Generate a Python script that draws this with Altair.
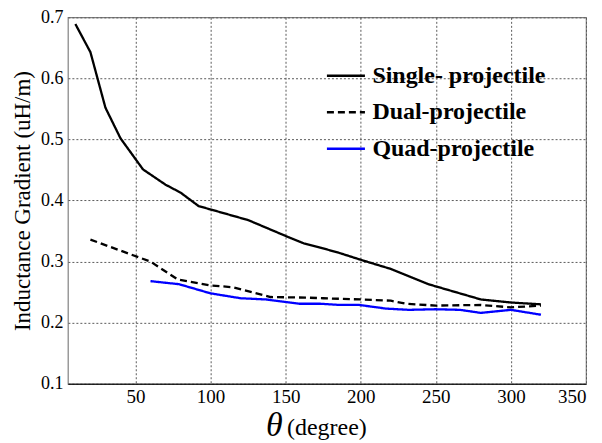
import altair as alt
import pandas as pd

series_names = ["Single- projectile", "Dual-projectile", "Quad-projectile"]

single_theta = [10, 20, 30, 40, 55, 70, 80, 92, 125, 150, 162, 173, 186, 200, 220, 245, 280, 300, 320]
single_vals = [0.689, 0.643, 0.552, 0.502, 0.451, 0.426, 0.413, 0.391, 0.368, 0.342, 0.330, 0.323, 0.314,
               0.303, 0.288, 0.263, 0.238, 0.233, 0.230]

dual_theta = [20, 60, 78, 100, 115, 140, 164, 175, 200, 220, 230, 250, 280, 300, 320]
dual_vals = [0.336, 0.300, 0.271, 0.261, 0.258, 0.242, 0.241, 0.240, 0.238, 0.236, 0.231, 0.228, 0.229,
             0.225, 0.228]

quad_theta = [60, 79, 100, 120, 137, 159, 173, 186, 199, 217, 232, 250, 266, 280, 300, 320]
quad_vals = [0.268, 0.263, 0.248, 0.240, 0.238, 0.231, 0.231, 0.229, 0.229, 0.223, 0.221, 0.222, 0.221,
             0.216, 0.221, 0.213]

x_ticks = [50, 100, 150, 200, 250, 300, 350]
y_ticks = [0.1, 0.2, 0.3, 0.4, 0.5, 0.6, 0.7]

rows = []
for name, th, vals in zip(series_names, [single_theta, dual_theta, quad_theta],
                          [single_vals, dual_vals, quad_vals]):
    for t, v in zip(th, vals):
        rows.append({"series": name, "theta": t, "value": v})
df = pd.DataFrame(rows)

FONT = "Liberation Serif"
GRID = "#5a5a5a"

legend_common = dict(title=None, orient="none", legendX=258, legendY=38,
                     symbolType="stroke", symbolSize=1450, symbolStrokeWidth=2.5,
                     labelFont=FONT, labelFontSize=24, labelFontWeight="bold",
                     labelColor="black", labelOffset=6, rowPadding=3.5, labelLimit=400)

chart = alt.Chart(df).mark_line(strokeWidth=2.3, strokeJoin="round").encode(
    x=alt.X("theta:Q",
            scale=alt.Scale(domain=[5, 350], nice=False, zero=False),
            axis=alt.Axis(values=x_ticks, title="(degree)", titleFont=FONT, titleFontSize=24,
                          titleFontWeight="normal", titleColor="black",
                          titleAlign="left", titleBaseline="alphabetic",
                          titleX=219, titleY=51,
                          labelFont=FONT, labelFontSize=19, labelColor="black", labelPadding=4,
                          ticks=False, domainColor="black", domainWidth=1.2,
                          grid=True, gridDash=[2, 2], gridColor=GRID, gridWidth=1,
                          gridOpacity=1)),
    y=alt.Y("value:Q",
            scale=alt.Scale(domain=[0.1, 0.7], nice=False, zero=False),
            axis=alt.Axis(values=y_ticks, format=".1f", title="Inductance Gradient (uH/m)",
                          titleFont=FONT, titleFontSize=23, titleFontWeight="normal",
                          titleColor="black", titlePadding=6,
                          labelFont=FONT, labelFontSize=18, labelColor="black", labelPadding=5,
                          ticks=False, domain=False,
                          grid=True, gridDash=[2, 2], gridColor=GRID, gridWidth=1,
                          gridOpacity=1)),
    color=alt.Color("series:N",
                    scale=alt.Scale(domain=series_names, range=["#000000", "#000000", "#0000ff"]),
                    legend=alt.Legend(**legend_common)),
    strokeDash=alt.StrokeDash("series:N",
                              scale=alt.Scale(domain=series_names, range=[[1, 0], [7, 4], [1, 0]]),
                              legend=alt.Legend(**legend_common)),
).properties(
    width=519,
    height=367,
    title=alt.TitleParams("θ", orient="bottom", anchor="start", font=FONT, fontSize=34,
                          fontStyle="italic", fontWeight="normal", color="black",
                          dx=255, offset=-31),
    padding={"left": 60, "top": 9, "right": 8, "bottom": 58},
    autosize=alt.AutoSizeParams(type="none"),
).configure(
    font=FONT
).configure_axis(
    labelFont=FONT, titleFont=FONT, grid=True, gridDash=[2, 2], gridColor=GRID
).configure_view(
    stroke="#808080", strokeWidth=1.2
)

chart.save("out.html", embed_options={"renderer": "svg", "actions": False})
